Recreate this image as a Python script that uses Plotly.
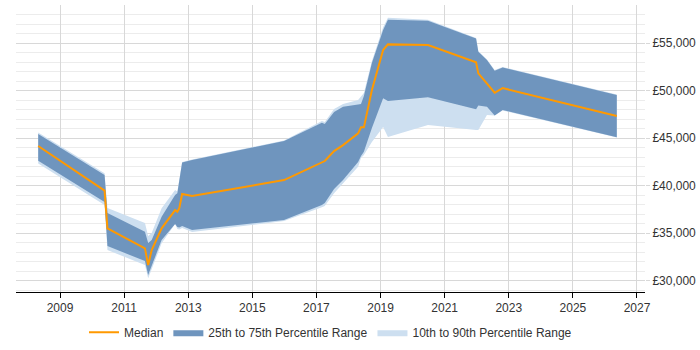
import plotly.graph_objects as go

# Time points (decimal years)
years = [2008.32, 2010.39, 2010.48, 2011.65, 2011.75, 2011.86, 2012.17, 2012.59,
         2012.66, 2012.72, 2012.81, 2013.12, 2015.99, 2017.17, 2017.26, 2017.55,
         2017.83, 2018.30, 2018.39, 2018.48, 2018.73, 2019.08, 2019.23, 2020.48,
         2021.98, 2022.05, 2022.32, 2022.56, 2022.81, 2026.37]

median = [44180, 39490, 35515, 33410, 31650, 33230, 35515, 37440,
          37263, 37620, 39126, 38915, 40600, 42420, 42600, 43650,
          44280, 45515, 46147, 46147, 50073, 54284, 54884, 54810,
          52990, 51830, 50800, 49790, 50280, 47340]

p75 = [45442, 41126, 37126, 35158, 33970, 34284, 36737, 39021,
       39200, 40600, 42440, 42700, 44705, 46631, 46494, 47760,
       48315, 48550, 48600, 49440, 52920, 56390, 57490, 57368,
       55516, 54105, 53231, 52105, 52460, 49547]

p25 = [42631, 38280, 33650, 32070, 30600, 31473, 34284, 35970,
       35650, 35600, 35758, 35337, 36389, 37968, 38180, 39650,
       40600, 42495, 43130, 43578, 46070, 49200, 48915, 49305,
       48042, 48440, 48315, 47390, 47968, 45094]

p90 = [45600, 41305, 37650, 36070, 34700, 35020, 37620, 39547,
       39390, 40600, 42490, 42760, 44760, 46810, 46705, 48070,
       48600, 49020, 49368, 49760, 53130, 56700, 57700, 57490,
       55550, 54180, 53280, 52180, 52510, 49600]

p10 = [42336, 37968, 33231, 31650, 30250, 31126, 33937, 35970,
       35440, 35390, 35547, 35126, 36284, 37726, 37863, 39200,
       40180, 42000, 42915, 43231, 44600, 46180, 45126, 46389,
       45863, 45863, 47442, 47390, 47915, 45073]

x_ticks = [2009, 2011, 2013, 2015, 2017, 2019, 2021, 2023, 2025, 2027]
y_ticks = [30000, 35000, 40000, 45000, 50000, 55000]
y_tick_labels = ["£30,000", "£35,000", "£40,000", "£45,000", "£50,000", "£55,000"]

fig = go.Figure()

fig.add_trace(go.Scatter(
    x=years + years[::-1], y=p90 + p10[::-1],
    fill="toself", fillcolor="#cddff0", line=dict(width=0),
    mode="lines", name="10th to 90th Percentile Range", legendrank=3,
    hoverinfo="skip"))

fig.add_trace(go.Scatter(
    x=years + years[::-1], y=p75 + p25[::-1],
    fill="toself", fillcolor="#6f95be", line=dict(width=0),
    mode="lines", name="25th to 75th Percentile Range", legendrank=2,
    hoverinfo="skip"))

fig.add_trace(go.Scatter(
    x=years, y=median, mode="lines", name="Median",
    line=dict(color="#ff9900", width=2), legendrank=1))

fig.update_layout(
    width=700, height=350,
    margin=dict(l=16, r=55, t=5, b=58, autoexpand=False),
    paper_bgcolor="white", plot_bgcolor="white",
    font=dict(family="Liberation Sans, Arial, sans-serif", size=12, color="#333333"),
    showlegend=True,
    legend=dict(orientation="h", x=0.5, xanchor="center", y=-0.09, yanchor="top",
                font=dict(size=12, color="#333333"), itemwidth=30,
                tracegroupgap=0, traceorder="normal"),
    xaxis=dict(range=[2007.627, 2027.25], tickvals=x_ticks,
               ticktext=[str(v) for v in x_ticks],
               showgrid=True, gridcolor="#d8d8d8", gridwidth=1,
               showline=True, linecolor="#000000", linewidth=1,
               ticks="outside", ticklen=5, tickcolor="#000000",
               zeroline=False, fixedrange=True, automargin=False),
    yaxis=dict(range=[28811, 59031], side="right", tickvals=y_ticks,
               ticktext=y_tick_labels,
               showgrid=True, gridcolor="#d8d8d8", gridwidth=1,
               ticks="outside", ticklen=4, tickcolor="#d8d8d8",
               minor=dict(dtick=1000, tick0=0, showgrid=True, gridcolor="#ececec", ticks=""),
               showline=False, zeroline=False, fixedrange=True, automargin=False),
)

fig.write_html("out.html")
